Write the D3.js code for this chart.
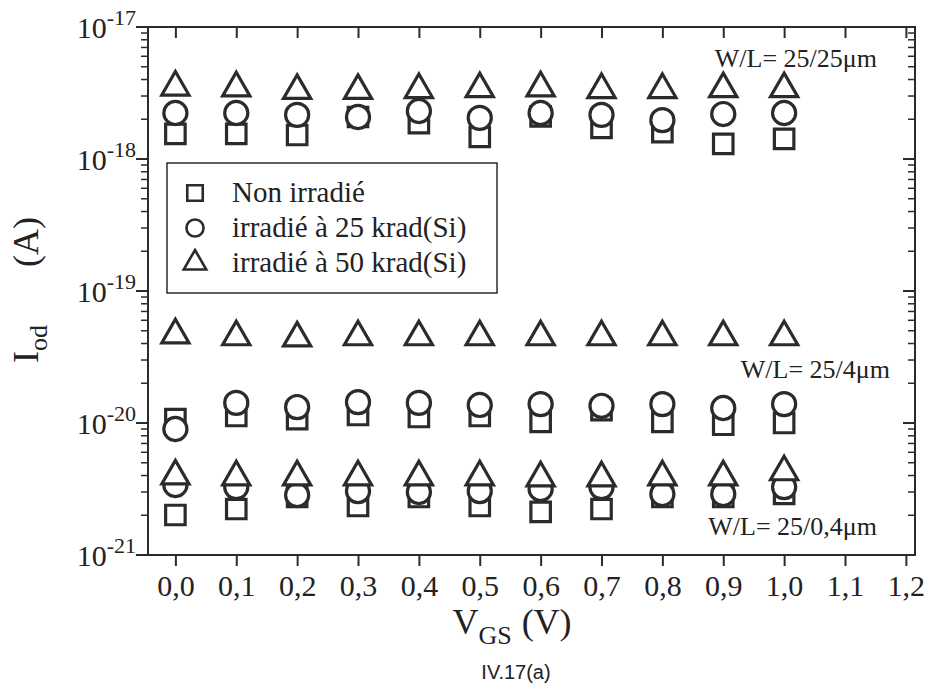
<!DOCTYPE html>
<html>
<head>
<meta charset="utf-8">
<script src="https://cdn.jsdelivr.net/npm/d3@7"></script>
<style>
  body { margin: 0; background: #fff; }
  text { fill: #222; }
</style>
</head>
<body>
<script>
// V_GS values (V)
var vgs = [0.0, 0.1, 0.2, 0.3, 0.4, 0.5, 0.6, 0.7, 0.8, 0.9, 1.0];
var xTicks = [0.0, 0.1, 0.2, 0.3, 0.4, 0.5, 0.6, 0.7, 0.8, 0.9, 1.0, 1.1, 1.2];
var yDecades = [-21, -20, -19, -18, -17];

// W/L = 25/25um
var non25_25 = [1.55e-18, 1.55e-18, 1.52e-18, 2.08e-18, 1.87e-18, 1.47e-18, 2.1e-18, 1.72e-18, 1.6e-18, 1.3e-18, 1.42e-18];
var k25_25_25 = [2.23e-18, 2.23e-18, 2.16e-18, 2.08e-18, 2.31e-18, 2.05e-18, 2.23e-18, 2.16e-18, 1.97e-18, 2.19e-18, 2.23e-18];
var k50_25_25 = [3.5e-18, 3.45e-18, 3.3e-18, 3.3e-18, 3.35e-18, 3.4e-18, 3.45e-18, 3.35e-18, 3.35e-18, 3.4e-18, 3.4e-18];

// W/L = 25/4um
var non25_4 = [1.07e-20, 1.13e-20, 1.07e-20, 1.15e-20, 1.11e-20, 1.13e-20, 1.02e-20, 1.25e-20, 1.02e-20, 0.97e-20, 1.0e-20];
var k25_25_4 = [0.9e-20, 1.42e-20, 1.32e-20, 1.44e-20, 1.42e-20, 1.37e-20, 1.39e-20, 1.35e-20, 1.39e-20, 1.30e-20, 1.39e-20];
var k50_25_4 = [4.64e-20, 4.49e-20, 4.4e-20, 4.49e-20, 4.49e-20, 4.49e-20, 4.49e-20, 4.49e-20, 4.49e-20, 4.49e-20, 4.49e-20];

// W/L = 25/0,4um
var non25_04 = [2.01e-21, 2.23e-21, 2.75e-21, 2.35e-21, 2.75e-21, 2.35e-21, 2.12e-21, 2.23e-21, 2.75e-21, 2.75e-21, 2.9e-21];
var k25_25_04 = [3.39e-21, 3.27e-21, 2.85e-21, 3.05e-21, 3.0e-21, 3.05e-21, 3.16e-21, 3.27e-21, 2.9e-21, 2.9e-21, 3.27e-21];
var k50_25_04 = [3.96e-21, 3.9e-21, 3.9e-21, 3.9e-21, 3.9e-21, 3.9e-21, 3.83e-21, 3.83e-21, 3.9e-21, 3.9e-21, 4.26e-21];

var legendLabels = ["Non irradié", "irradié à 25 krad(Si)", "irradié à 50 krad(Si)"];
var groupLabels = ["W/L= 25/25\u03bcm", "W/L= 25/4\u03bcm", "W/L= 25/0,4\u03bcm"];

var width = 929, height = 699;
var mLeft = 148, mRight = 915, mTop = 27, mBottom = 555;
var ink = "#2b2b2b";
var serif = "'Liberation Serif', 'Times New Roman', serif";

var svg = d3.select("body").append("svg")
    .attr("width", width)
    .attr("height", height);

var x = d3.scaleLinear().domain([-0.045, 1.215]).range([mLeft, mRight]);
var y = d3.scaleLog().domain([1e-21, 1e-17]).range([mBottom, mTop]);

// frame
svg.append("rect")
    .attr("x", mLeft).attr("y", mTop)
    .attr("width", mRight - mLeft).attr("height", mBottom - mTop)
    .attr("fill", "none").attr("stroke", ink).attr("stroke-width", 2);

var fmt = function (d) { return d3.format(".1f")(d).replace(".", ","); };

// bottom axis (ticks outward), top axis (ticks inward)
var xAxisB = d3.axisBottom(x).tickValues(xTicks).tickSize(11).tickFormat(fmt).tickSizeOuter(0);
var gxb = svg.append("g").attr("transform", "translate(0," + mBottom + ")").call(xAxisB);
gxb.select(".domain").remove();
gxb.selectAll("line").attr("stroke", ink).attr("stroke-width", 2);
gxb.selectAll("text").attr("font-family", serif).attr("font-size", 30)
    .attr("dy", null).attr("y", 41);

var xAxisT = d3.axisBottom(x).tickValues(xTicks).tickSize(11).tickFormat("");
var gxt = svg.append("g").attr("transform", "translate(0," + mTop + ")").call(xAxisT);
gxt.select(".domain").remove();
gxt.selectAll("line").attr("stroke", ink).attr("stroke-width", 2);

// y ticks: majors and minors, on left (outward) and right (inward)
var minors = [];
yDecades.slice(0, -1).forEach(function (e) {
  for (var m = 2; m <= 9; m++) minors.push(m * Math.pow(10, e));
});
var majors = yDecades.map(function (e) { return Math.pow(10, e); });

[mLeft, mRight].forEach(function (xx) {
  svg.append("g").selectAll("line").data(majors).enter().append("line")
      .attr("x1", xx - 12).attr("x2", xx)
      .attr("y1", function (d) { return y(d); }).attr("y2", function (d) { return y(d); })
      .attr("stroke", ink).attr("stroke-width", 2);
  svg.append("g").selectAll("line").data(minors).enter().append("line")
      .attr("x1", xx - 7).attr("x2", xx)
      .attr("y1", function (d) { return y(d); }).attr("y2", function (d) { return y(d); })
      .attr("stroke", ink).attr("stroke-width", 1.5);
});

var ylab = svg.append("g").selectAll("text").data(yDecades).enter().append("text")
    .attr("x", 136)
    .attr("y", function (d) { return y(Math.pow(10, d)) + 11; })
    .attr("text-anchor", "end")
    .attr("font-family", serif)
    .attr("font-size", 30);
ylab.append("tspan").text("10");
ylab.append("tspan").attr("dy", -13).attr("font-size", 22).text(function (d) { return d; });

// axis titles
var yt = svg.append("text")
    .attr("transform", "translate(38,290) rotate(-90)")
    .attr("text-anchor", "middle")
    .attr("font-family", serif)
    .attr("font-size", 36);
yt.append("tspan").text("I");
yt.append("tspan").attr("dy", 9).attr("font-size", 26).text("od");
yt.append("tspan").attr("dy", -9).attr("dx", 58).text("(A)");

var xt = svg.append("text")
    .attr("x", 512).attr("y", 634)
    .attr("text-anchor", "middle")
    .attr("font-family", serif)
    .attr("font-size", 36);
xt.append("tspan").text("V");
xt.append("tspan").attr("dy", 10).attr("font-size", 26).text("GS");
xt.append("tspan").attr("dy", -10).attr("dx", 10).text("(V)");

svg.append("text")
    .attr("x", 516).attr("y", 679)
    .attr("text-anchor", "middle")
    .attr("font-family", "'Liberation Sans', Arial, sans-serif")
    .attr("font-size", 20)
    .text("IV.17(a)");

// markers
var shapes = [
  { type: d3.symbolSquare, size: 380, series: [non25_25, non25_4, non25_04] },
  { type: d3.symbolCircle, size: 420, series: [k25_25_25, k25_25_4, k25_25_04] },
  { type: d3.symbolTriangle, size: 320, series: [k50_25_25, k50_25_4, k50_25_04] }
];

shapes.forEach(function (s) {
  var sym = d3.symbol().type(s.type).size(s.size);
  s.series.forEach(function (vals) {
    svg.append("g").selectAll("path").data(vals).enter().append("path")
        .attr("d", sym)
        .attr("transform", function (d, i) { return "translate(" + x(vgs[i]) + "," + y(d) + ")"; })
        .attr("fill", "#fff")
        .attr("stroke", ink)
        .attr("stroke-width", 3.2);
  });
});

// group labels
var glPos = [[877, 67], [890, 378], [877, 535]];
svg.append("g").selectAll("text").data(groupLabels).enter().append("text")
    .attr("x", function (d, i) { return glPos[i][0]; })
    .attr("y", function (d, i) { return glPos[i][1]; })
    .attr("text-anchor", "end")
    .attr("font-family", serif)
    .attr("font-size", 26)
    .text(function (d) { return d; });

// legend
var lg = svg.append("g").attr("transform", "translate(167,163)");
lg.append("rect").attr("width", 330).attr("height", 130)
    .attr("fill", "#fff").attr("stroke", ink).attr("stroke-width", 1.5);
var items = lg.selectAll("g.item").data(legendLabels).enter().append("g")
    .attr("transform", function (d, i) { return "translate(0," + (30 + i * 35) + ")"; });
items.append("path")
    .attr("transform", "translate(28,0)")
    .attr("d", function (d, i) { return d3.symbol().type(shapes[i].type).size([240, 230, 220][i])(); })
    .attr("fill", "none").attr("stroke", ink).attr("stroke-width", 2.6);
items.append("text")
    .attr("x", 65).attr("y", 9)
    .attr("font-family", serif)
    .attr("font-size", 29)
    .text(function (d) { return d; });
</script>
</body>
</html>
